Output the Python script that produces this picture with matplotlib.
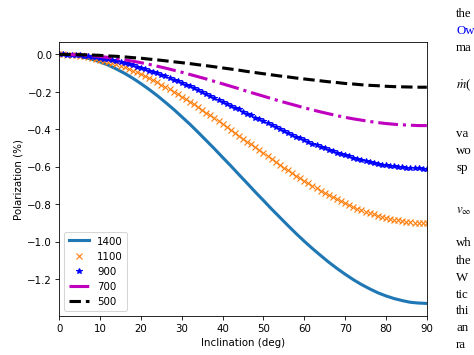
import numpy as np
import matplotlib
matplotlib.use("Agg")
import matplotlib.pyplot as plt

plt.rcParams['mathtext.fontset'] = 'stix'

# inclination grids (deg)
inc_1 = np.arange(0, 91, 1)
inc_2 = np.arange(0, 91, 2)

# polarization (%)
pol_1400 = -np.array([0, 0.002, 0.006, 0.015, 0.026, 0.040, 0.057, 0.078, 0.101, 0.127,
                      0.156, 0.187, 0.220, 0.256, 0.293, 0.333, 0.373, 0.416, 0.460, 0.504,
                      0.550, 0.595, 0.642, 0.688, 0.735, 0.780, 0.826, 0.870, 0.914, 0.957,
                      0.998, 1.037, 1.074, 1.110, 1.143, 1.174, 1.203, 1.229, 1.252, 1.273,
                      1.290, 1.304, 1.315, 1.324, 1.328, 1.330])
pol_1100 = -np.array([0, 0.000, 0.001, 0.002, 0.004, 0.007, 0.010, 0.013, 0.017, 0.022,
                      0.027, 0.033, 0.039, 0.046, 0.053, 0.060, 0.068, 0.077, 0.086, 0.095,
                      0.105, 0.116, 0.126, 0.137, 0.149, 0.161, 0.173, 0.185, 0.198, 0.212,
                      0.225, 0.239, 0.253, 0.267, 0.281, 0.296, 0.311, 0.326, 0.341, 0.356,
                      0.372, 0.387, 0.403, 0.419, 0.434, 0.450, 0.466, 0.481, 0.497, 0.513,
                      0.528, 0.544, 0.559, 0.574, 0.589, 0.604, 0.619, 0.633, 0.647, 0.661,
                      0.675, 0.688, 0.702, 0.715, 0.727, 0.739, 0.751, 0.763, 0.774, 0.784,
                      0.795, 0.805, 0.814, 0.823, 0.832, 0.840, 0.847, 0.854, 0.861, 0.867,
                      0.873, 0.878, 0.883, 0.887, 0.890, 0.893, 0.896, 0.898, 0.899, 0.900,
                      0.900])
pol_900 = -np.array([0, 0.000, 0.001, 0.002, 0.003, 0.005, 0.007, 0.009, 0.012, 0.015,
                     0.018, 0.022, 0.026, 0.031, 0.036, 0.041, 0.046, 0.052, 0.058, 0.065,
                     0.071, 0.078, 0.086, 0.093, 0.101, 0.109, 0.117, 0.126, 0.134, 0.143,
                     0.153, 0.162, 0.171, 0.181, 0.191, 0.201, 0.211, 0.221, 0.231, 0.242,
                     0.252, 0.263, 0.273, 0.284, 0.294, 0.305, 0.316, 0.326, 0.337, 0.347,
                     0.358, 0.368, 0.379, 0.389, 0.399, 0.409, 0.419, 0.429, 0.439, 0.448,
                     0.458, 0.467, 0.476, 0.484, 0.493, 0.501, 0.509, 0.517, 0.524, 0.532,
                     0.539, 0.545, 0.552, 0.558, 0.564, 0.569, 0.574, 0.579, 0.584, 0.588,
                     0.592, 0.595, 0.598, 0.601, 0.603, 0.605, 0.607, 0.608, 0.609, 0.610,
                     0.610])
pol_700 = -np.array([0, 0.000, 0.002, 0.004, 0.007, 0.011, 0.016, 0.022, 0.029, 0.036,
                     0.044, 0.053, 0.063, 0.073, 0.084, 0.095, 0.107, 0.119, 0.131, 0.144,
                     0.157, 0.170, 0.183, 0.197, 0.210, 0.223, 0.236, 0.249, 0.261, 0.273,
                     0.285, 0.296, 0.307, 0.317, 0.327, 0.336, 0.344, 0.351, 0.358, 0.364,
                     0.369, 0.373, 0.376, 0.378, 0.380, 0.380])
pol_500 = -np.array([0, 0.000, 0.001, 0.002, 0.003, 0.005, 0.008, 0.010, 0.013, 0.017,
                     0.020, 0.025, 0.029, 0.034, 0.039, 0.044, 0.049, 0.055, 0.060, 0.066,
                     0.072, 0.078, 0.084, 0.091, 0.097, 0.103, 0.109, 0.115, 0.120, 0.126,
                     0.131, 0.136, 0.141, 0.146, 0.150, 0.155, 0.158, 0.162, 0.165, 0.167,
                     0.170, 0.172, 0.173, 0.174, 0.175, 0.175])

# the bits of paper text visible at the right edge
side_text = ["the", "Ow", "ma", r"$\dot{m}$(", "va", "wo", "sp",
             r"$v_\infty$", "wh", "the", "W", "tic", "thi", "an", "ra"]
side_y = [17, 34, 51, 88, 137, 154, 171, 213, 246, 263, 280, 297, 313, 330, 347]

fig = plt.figure(figsize=(6.4, 4.8), dpi=74.1)
ax = fig.add_subplot(111)

ax.plot(inc_2, pol_1400, '-', color='C0', lw=3, label='1400')
ax.plot(inc_1, pol_1100, 'x', color='C1', ms=6, mew=1.1, label='1100')
ax.plot(inc_1, pol_900, '*', color='b', ms=6, label='900')
ax.plot(inc_2, pol_700, '-.', color='m', lw=3, label='700')
ax.plot(inc_2, pol_500, '--', color='k', lw=3, label='500')

ax.set_xlim(0, 90)
ax.set_xlabel('Inclination (deg)')
ax.set_ylabel('Polarization (%)')
ax.legend(loc='lower left')

for s, y in zip(side_text, side_y):
    col = 'b' if s == "Ow" else 'k'
    fig.text(456 / 474, 1 - y / 355, s, family='Liberation Serif', fontsize=12.5,
             color=col, va='baseline', ha='left')

fig.savefig('out.png', dpi=74.1)
